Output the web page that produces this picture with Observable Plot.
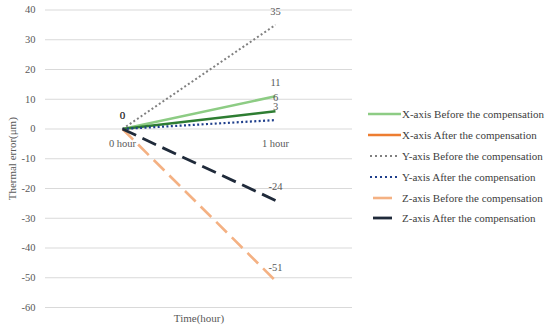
<!DOCTYPE html>
<html><head><meta charset="utf-8">
<script src="https://cdn.jsdelivr.net/npm/d3@7"></script>
<script src="https://cdn.jsdelivr.net/npm/@observablehq/plot@0.6"></script>
<style>
body{margin:0;background:#fff;font-family:"Liberation Serif","Times New Roman",Times,"DejaVu Serif",serif;}
#wrap{position:relative;width:550px;height:328px;overflow:hidden;}
#legend{position:absolute;left:368px;top:104px;font-size:11px;color:#404040;font-family:"Liberation Serif","Times New Roman",Times,"DejaVu Serif",serif;}
.item{display:flex;align-items:center;height:20.8px;white-space:nowrap}
.item svg{margin-right:1px}
svg text{font-family:"Liberation Serif","Times New Roman",Times,"DejaVu Serif",serif;}
</style></head><body><div id="wrap"><div id="legend"></div></div>
<script>
const hours = ["0 hour", "1 hour"];
const seriesNames = [
  "X-axis Before the compensation",
  "X-axis After the compensation",
  "Y-axis Before the compensation",
  "Y-axis After the compensation",
  "Z-axis Before the compensation",
  "Z-axis After the compensation"
];
const xBefore = [0, 11];
const xAfter = [0, 6];
const yBefore = [0, 35];
const yAfter = [0, 3];
const zBefore = [0, -51];
const zAfter = [0, -24];
const seriesValues = [xBefore, xAfter, yBefore, yAfter, zBefore, zAfter];
const yTicks = [40, 30, 20, 10, 0, -10, -20, -30, -40, -50, -60];
const yDomain = [-60, 40];

// styles
const lineColors = ["#8dcc84", "#2e7d32", "#808080", "#1f3f8c", "#f4b183", "#1f2a3a"];
const legendColors = ["#8dcc84", "#ed7d31", "#808080", "#1f3f8c", "#f4b183", "#1f2a3a"];
const dashes = [null, null, "2,2.4", "2,2.4", "15,7", "15,7"];
const widths = [2.5, 2.5, 2, 2.2, 2.6, 2.8];

const rows = [];
seriesNames.forEach((s, i) => seriesValues[i].forEach((v, j) => rows.push({series: s, hour: hours[j], value: v, idx: i})));

const marks = [
  Plot.gridY(yTicks, {stroke: "#d9d9d9", strokeOpacity: 1, strokeWidth: 1}),
  Plot.axisY(yTicks, {tickSize: 0, tickPadding: 10, label: null, tickFormat: d => String(d), fill: "#595959"}),
  Plot.text(hours, {x: d => d, y: () => 0, dy: 15, text: d => d, fill: "#595959", fontSize: 10.5}),
  Plot.text(["Thermal error(μm)"], {frameAnchor: "left", dx: -33, rotate: -90, text: d => d, fill: "#595959", fontSize: 11, textAnchor: "middle", lineAnchor: "middle"}),
  Plot.text(["Time(hour)"], {frameAnchor: "bottom", dy: 11, text: d => d, fill: "#595959", fontSize: 11, textAnchor: "middle", lineAnchor: "middle"})
];
seriesNames.forEach((s, i) => {
  const data = rows.filter(r => r.idx === i);
  marks.push(Plot.line(data, {x: "hour", y: "value", stroke: lineColors[i], strokeWidth: widths[i], strokeDasharray: dashes[i], strokeLinecap: "butt"}));
});
seriesNames.forEach((s, i) => {
  const data = rows.filter(r => r.idx === i && r.hour === hours[1]);
  marks.push(Plot.text(data, {x: "hour", y: "value", text: d => String(d.value), dy: -13.5, fill: "#595959", fontSize: 10.5}));
});
marks.push(Plot.text(rows.filter(r => r.hour === hours[0]).slice(0, 2), {x: "hour", y: "value", text: d => String(d.value), dy: -14, fill: "#404040", fontSize: 11}));

const chart = Plot.plot({
  width: 550, height: 328,
  marginLeft: 45, marginRight: 198, marginTop: 9.5, marginBottom: 21,
  style: {fontFamily: "'Liberation Serif', 'Times New Roman', Times, serif", fontSize: "10.5px", color: "#595959", background: "white"},
  x: {type: "point", domain: hours, padding: 0.5, axis: null},
  y: {domain: yDomain, axis: null},
  marks
});
const wrap = document.getElementById("wrap");
wrap.insertBefore(chart, wrap.firstChild);
chart.style.position = "absolute"; chart.style.left = "0"; chart.style.top = "0";

const legend = d3.select("#legend");
seriesNames.forEach((s, i) => {
  const it = legend.append("div").attr("class", "item");
  const sv = it.append("svg").attr("width", 33).attr("height", 8);
  const dashed = dashes[i] && dashes[i].startsWith("15");
  sv.append("line")
    .attr("x1", dashed ? 5 : (dashes[i] ? 2 : 0)).attr("x2", dashed ? 24 : (dashes[i] ? 31 : 33))
    .attr("y1", 4).attr("y2", 4)
    .attr("stroke", legendColors[i]).attr("stroke-width", widths[i])
    .attr("stroke-dasharray", dashed ? null : (dashes[i] ? "2,3" : null));
  it.append("span").text(s);
});
</script></body></html>
